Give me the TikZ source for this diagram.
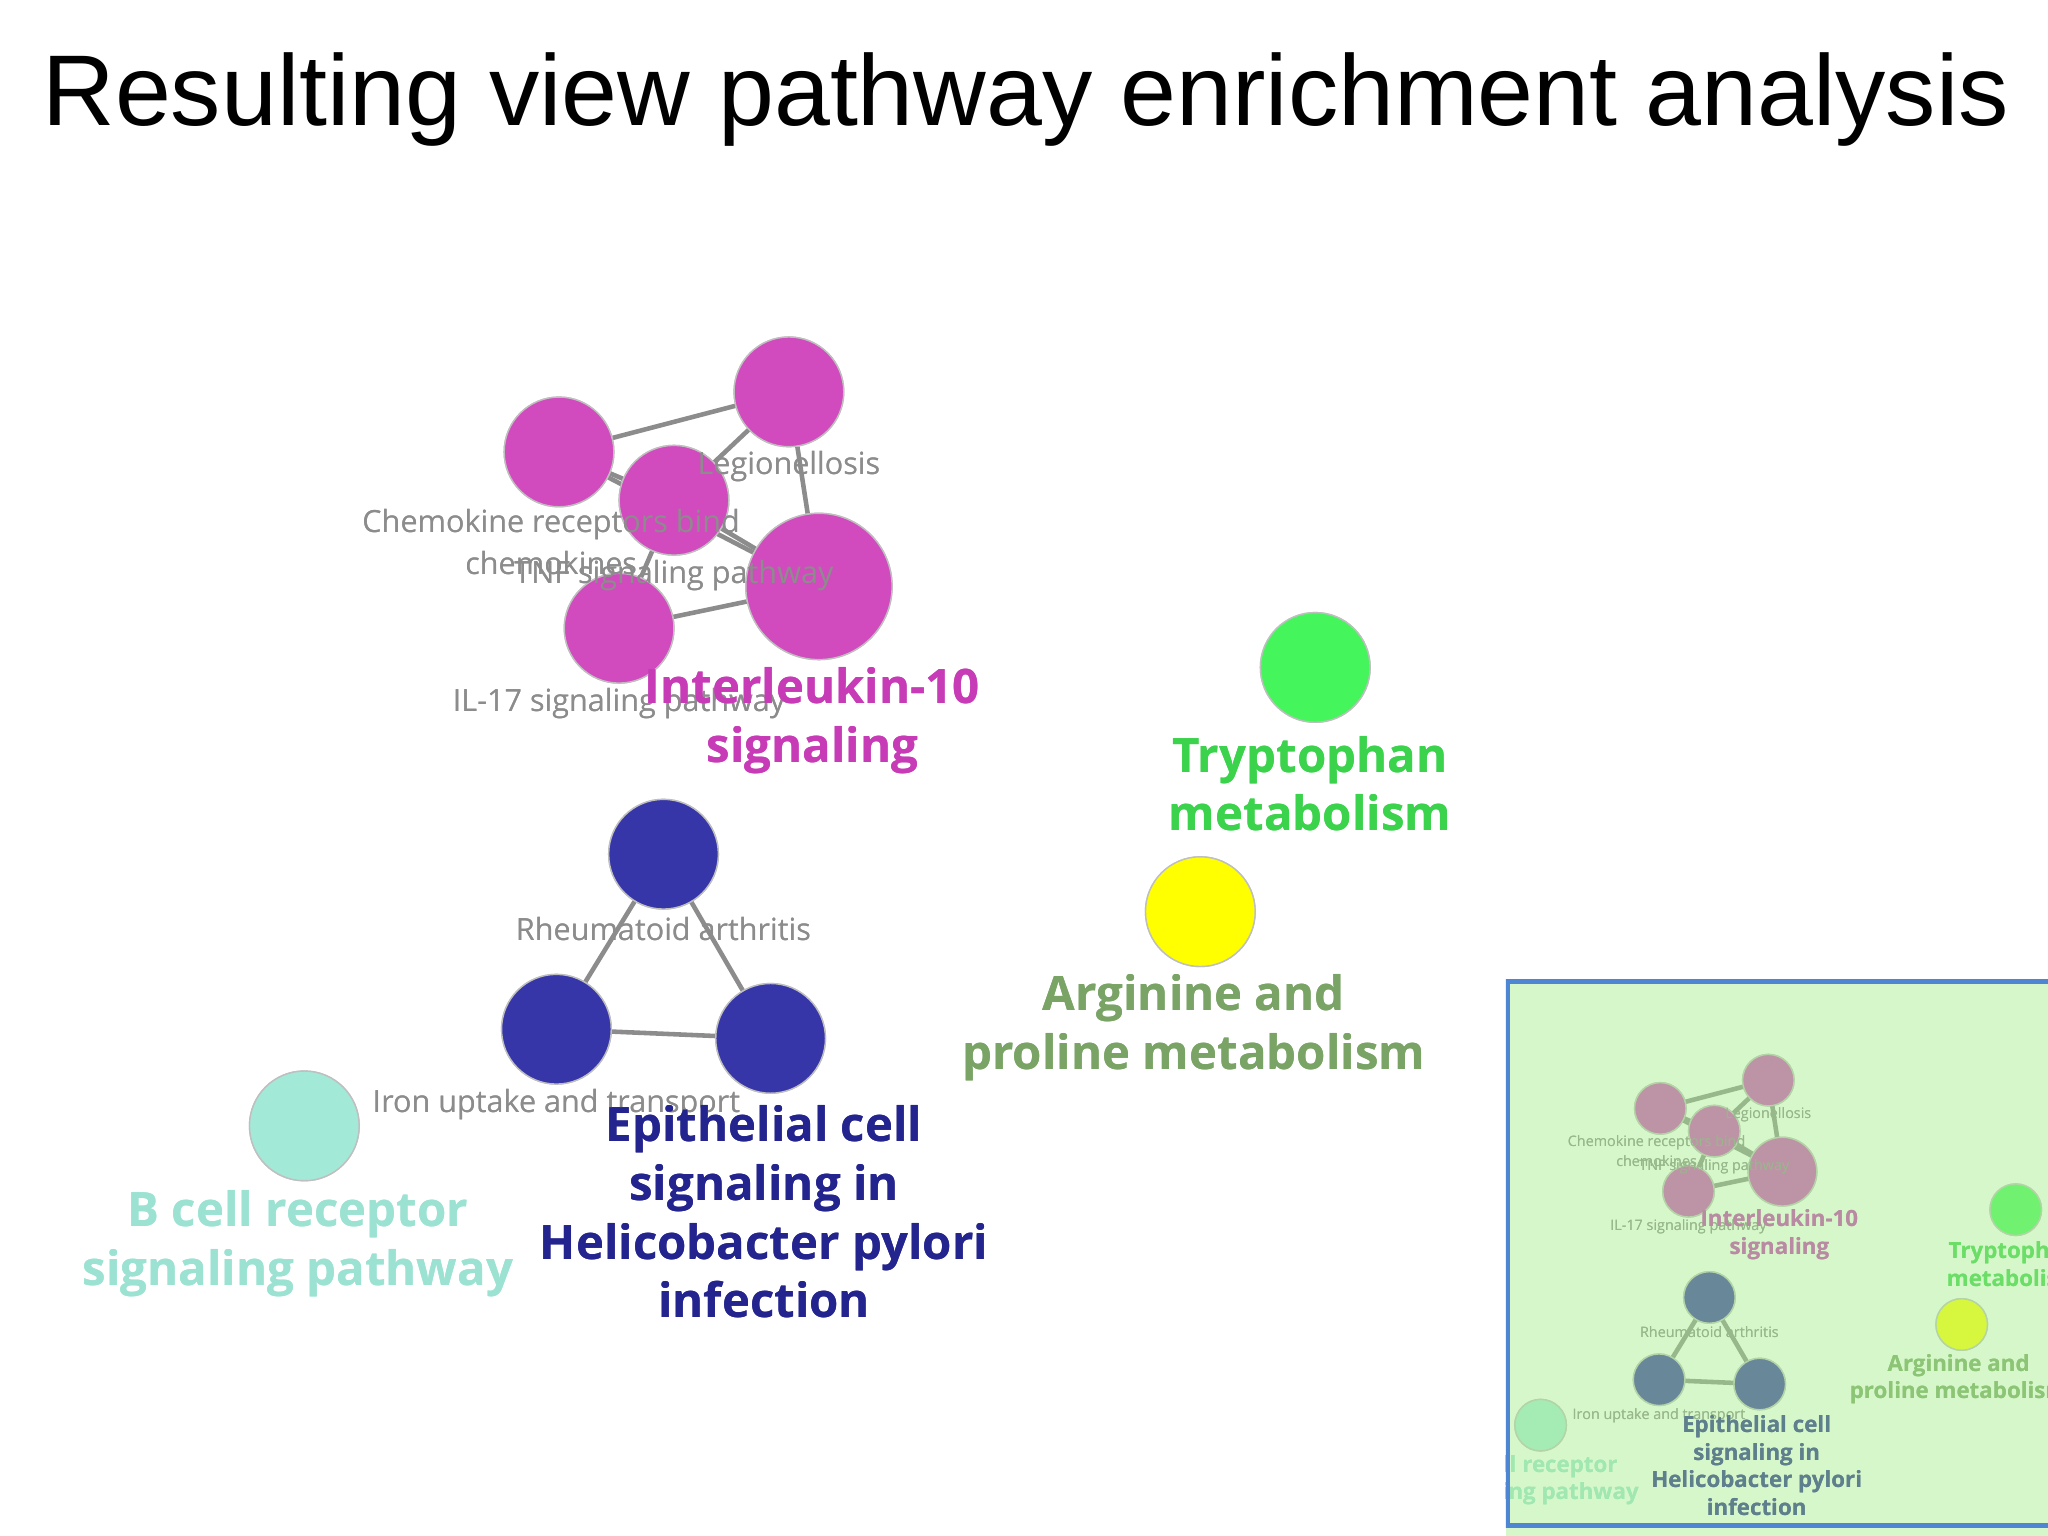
\documentclass[tikz,border=0pt]{standalone}
\usepackage{fontspec}
\setmainfont{Open Sans}
\newfontfamily\tfont{Liberation Sans}
\begin{document}
\definecolor{pk}{HTML}{D14BBE}
\definecolor{pkt}{HTML}{C73BB7}
\definecolor{gr}{HTML}{44F55C}
\definecolor{grt}{HTML}{3BD24C}
\definecolor{yl}{HTML}{FFFF00}
\definecolor{olt}{HTML}{79A466}
\definecolor{bl}{HTML}{3636A8}
\definecolor{blt}{HTML}{24248F}
\definecolor{cy}{HTML}{A3E9D8}
\definecolor{cyt}{HTML}{9CE2D2}
\definecolor{insetbg}{HTML}{A6EE8A}
\definecolor{insetbd}{HTML}{4E86D4}
\newcommand\drawgraph{%
  \foreach \a/\b in {A/B,A/C,A/D,B/C,B/D,C/D,D/E,C/E}{\draw[edge] (\a) -- (\b);}
  \draw[edge] (R) -- (S); \draw[edge] (R) -- (T); \draw[edge] (S) -- (T);
}
\newcommand\drawnodes{%
  \node[dot,fill=pk] (A) at (428,346) {};
  \node[dot,fill=pk] (B) at (604,300) {};
  \node[dot,fill=pk] (C) at (516,383) {};
  \node[dot,fill=pk,minimum size=112*0.01306cm] (D) at (627,449) {};
  \node[dot,fill=pk] (E) at (474,481) {};
  \node[dot,fill=gr] (G) at (1007,511) {};
  \node[dot,fill=yl] (Y) at (919,698) {};
  \node[dot,fill=bl] (R) at (508,654) {};
  \node[dot,fill=bl] (S) at (426,788) {};
  \node[dot,fill=bl] (T) at (590,795) {};
  \node[dot,fill=cy] (K) at (233,862) {};
  \node[small] (l1) at (604,357) {Legionellosis};
  \node[small,align=center] (l2) at (422,415) {Chemokine receptors bind\\chemokines};
  \node[small] (l3) at (516,441) {TNF signaling pathway};
  \node[small] (l4) at (474,539) {IL-17 signaling pathway};
  \node[small] (l5) at (508,711) {Rheumatoid arthritis};
  \node[small] (l6) at (426,846) {Iron uptake and transport};
  \node[big,text=pkt] (t1) at (622,552) {Interleukin-10\\signaling};
  \node[big,text=grt] (t2) at (1003,600) {Tryptophan\\metabolism};
  \node[big,text=olt] (t3) at (914,787) {Arginine and\\proline metabolism};
  \node[big,text=blt] (t4) at (585,928) {Epithelial cell\\signaling in\\Helicobacter pylori\\infection};
  \node[big,text=cyt] (t5) at (228,952) {B cell receptor\\signaling pathway};
}
\begin{tikzpicture}[x=0.01306cm,y=-0.01306cm,
  dot/.style={circle,draw=black!25,line width=0.4pt,minimum size=84*0.01306cm,inner sep=0},
  edge/.style={draw=black!45,line width=1.3pt},
  small/.style={text=black!45,font=\fontsize{8.7}{12}\selectfont,inner sep=0},
  big/.style={font=\fontsize{13.5}{16.7}\selectfont\bfseries,align=center,inner sep=0}]
\useasboundingbox (0,0) rectangle (1568,1176);
\node[font=\tfont\fontsize{28.6}{32}\selectfont,anchor=base west,inner sep=0] (title) at (32,96) {Resulting view pathway enrichment analysis};
\drawnodes
\drawgraph
\drawnodes
\begin{scope}
\clip (1153,750) rectangle (1568,1176);
\fill[white] (1153,750) rectangle (1568,1176);
\begin{scope}[shift={(1070,686)},scale=0.47,transform shape,name prefix=in-]
\drawnodes
\drawgraph
\drawnodes
\end{scope}
\fill[insetbg,opacity=0.45] (1153,750) rectangle (1568,1176);
\draw[insetbd,line width=1.5pt] (1154,751) rectangle (1575,1168);
\end{scope}
\end{tikzpicture}
\end{document}
